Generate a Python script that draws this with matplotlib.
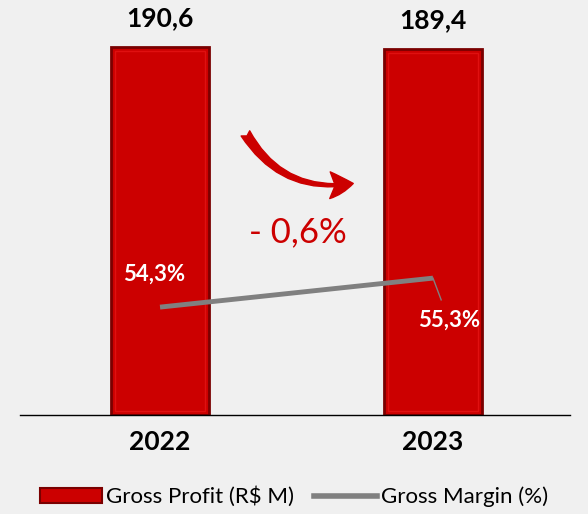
import matplotlib.pyplot as plt
from matplotlib.patches import FancyArrowPatch, Patch
from matplotlib.lines import Line2D

years = ["2022", "2023"]
gross_profit = [190.6, 189.4]
gross_margin = [54.3, 55.3]
profit_labels = ["190,6", "189,4"]
margin_labels = ["54,3%", "55,3%"]
change_label = "- 0,6%"

font = "Lato"
red = "#cc0000"
dark_red = "#7a0000"
gray = "#808080"
bg = "#f0f0f0"

fig = plt.figure(figsize=(5.88, 5.14), dpi=100, facecolor=bg)
ax = fig.add_axes([20 / 588, 99 / 514, 550 / 588, 415 / 514])
ax.set_facecolor(bg)

x = [0, 1]
ax.bar(x, gross_profit, width=0.36, color=red, edgecolor=dark_red, linewidth=2, zorder=2)
# lighter inner face to hint at the bevel
ax.bar(x, [v - 4 for v in gross_profit], bottom=2, width=0.33, color=red,
       edgecolor="#e01010", linewidth=1, zorder=2)
ax.set_xlim(-0.513, 1.502)
ax.set_ylim(0, 215)
for xi, v, lab in zip(x, gross_profit, profit_labels):
    ax.text(xi, v + 9, lab, ha="center", va="bottom", fontsize=19, fontweight="bold",
            family=font, color="black")

for s in ["top", "right", "left"]:
    ax.spines[s].set_visible(False)
ax.spines["bottom"].set_color("black")
ax.spines["bottom"].set_linewidth(1)
ax.set_yticks([])
ax.set_xticks(x)
ax.set_xticklabels(years, fontsize=19, fontweight="bold", family=font)
ax.tick_params(axis="x", length=0, pad=11)

ax2 = ax.twinx()
ax2.set_ylim(50.58, 64.89)
ax2.axis("off")
ax2.plot(x, gross_margin, color=gray, linewidth=3.5, solid_capstyle="butt", zorder=3)
ax2.text(x[0] - 0.02, gross_margin[0] + 1.15, margin_labels[0], ha="center", va="center",
         fontsize=16, fontweight="bold", family=font, color="white")
ax2.text(x[1] + 0.06, gross_margin[1] - 1.45, margin_labels[1], ha="center", va="center",
         fontsize=16, fontweight="bold", family=font, color="white")
ax2.plot([x[1], x[1] + 0.03], [gross_margin[1], gross_margin[1] - 0.75], color=gray, linewidth=1)

# curved arrow and change label
arrow = FancyArrowPatch((244 / 588, 1 - 131 / 514), (356 / 588, 1 - 183 / 514),
                        transform=fig.transFigure, connectionstyle="arc3,rad=0.35",
                        arrowstyle="fancy,head_length=14,head_width=16,tail_width=6",
                        color=red, mutation_scale=1.2)
fig.patches.append(arrow)
fig.text(298 / 588, 1 - 232 / 514, change_label, ha="center", va="center", fontsize=25,
         family=font, color=red)

handles = [Patch(facecolor=red, edgecolor=dark_red, linewidth=1.5),
           Line2D([0], [0], color=gray, linewidth=4)]
fig.legend(handles, ["Gross Profit (R$ M)", "Gross Margin (%)"], loc="center",
           bbox_to_anchor=(0.5, 1 - 497 / 514), ncol=2, frameon=False,
           prop={"family": font, "size": 16}, handlelength=2.8, handletextpad=0.2,
           columnspacing=0.9)

fig.savefig("out.png", dpi=100, facecolor=bg)
